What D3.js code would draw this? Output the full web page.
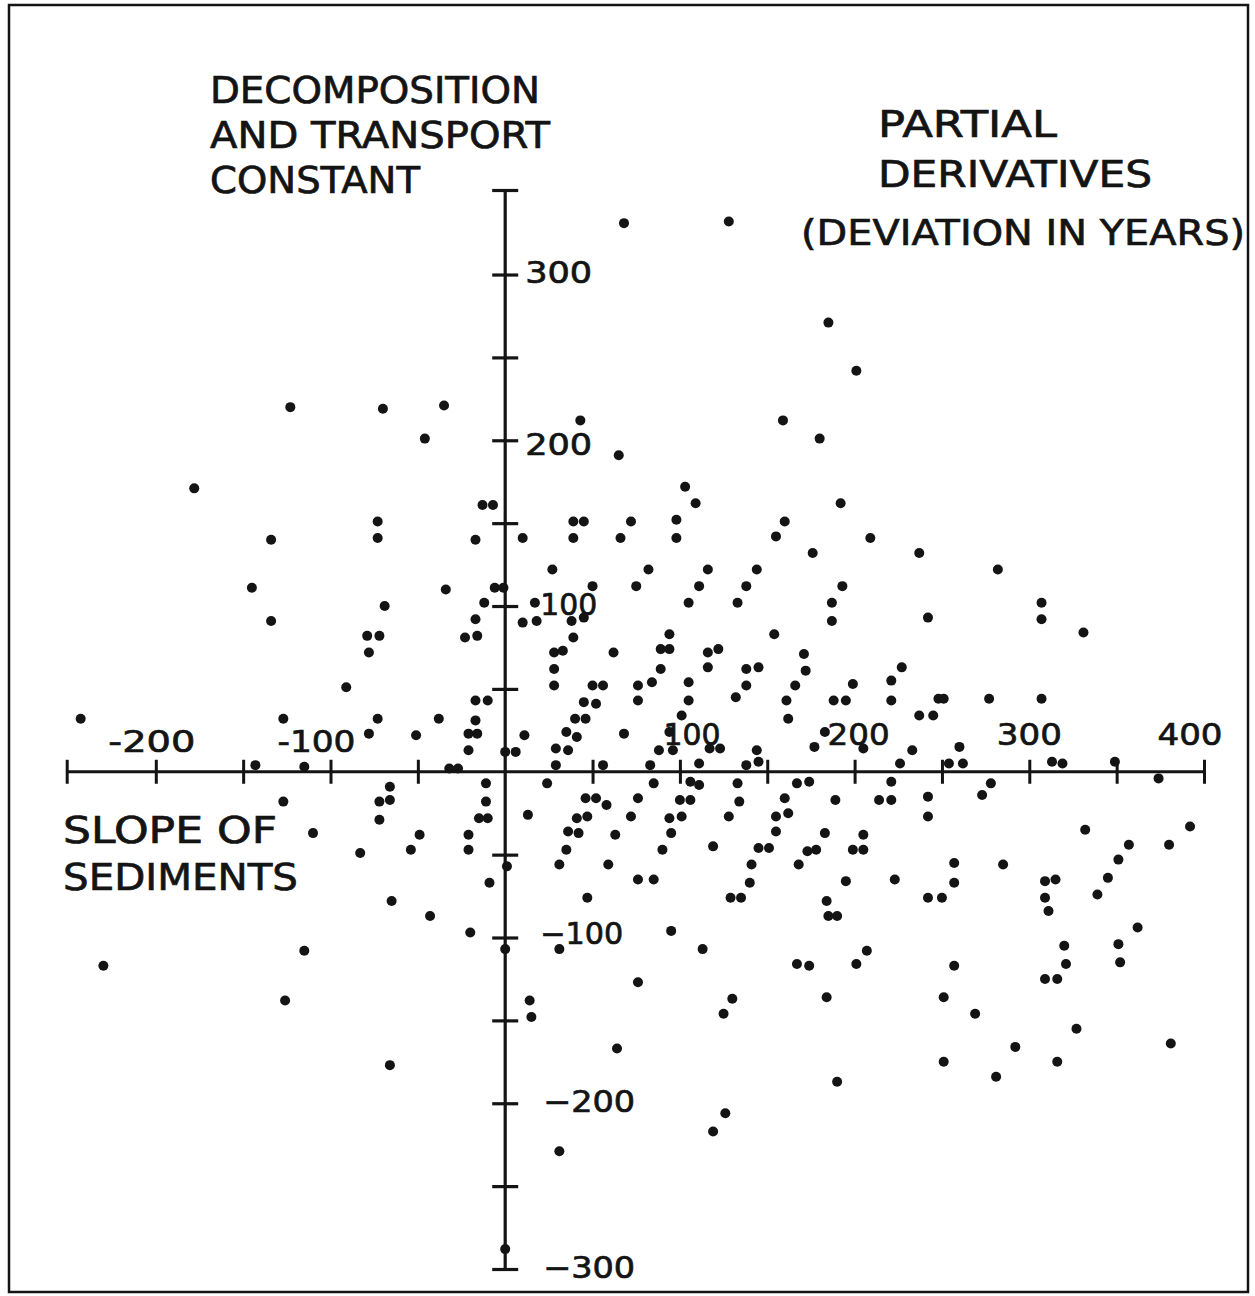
<!DOCTYPE html>
<html>
<head>
<meta charset="utf-8">
<script src="https://cdn.jsdelivr.net/npm/d3@7"></script>
<style>
  body { margin: 0; background: #fff; }
  text { font-family: "DejaVu Sans", "Liberation Sans", sans-serif; fill: #141414;
         stroke: #141414; stroke-width: 0.7px; }
</style>
</head>
<body>
<svg id="chart" width="1255" height="1296"></svg>
<script>
// Partial derivatives of the age estimate: deviation in years produced by
// the slope of sediments (x) and by the decomposition and transport constant (y).
const deviations = [
  [-123,220],[-178,171],[-134,140],
  [68,331],[-70,219],[-35,221],[-46,201],[43,212],[65,191],[-13,161],[-7,161],
  [-73,151],[-73,141],[-17,140],[10,141],[39,151],[45,151],[39,141],[72,151],[66,141],
  [128,332],[185,271],[201,242],[159,212],[180,201],[103,172],[109,162],[98,152],[98,141],
  [160,151],[155,142],[192,162],[209,141],[176,132],[237,132],
  [-145,111],[-134,91],[-91,51],[-243,32],[-127,32],[-143,4],[-115,3],[-127,-18],[-110,-37],
  [27,122],[-34,110],[-6,111],[-1,111],[-69,100],[-12,102],[17,102],[50,112],[75,112],
  [-17,92],[10,90],[18,91],[38,91],[45,93],[-79,82],[-72,82],[-78,72],[-23,81],[-16,82],
  [39,81],[28,72],[33,73],[62,72],[28,62],[28,52],[50,52],[56,52],[76,52],
  [-17,43],[-10,43],[45,42],[52,41],[76,43],[-73,32],[-38,32],[-17,31],[40,32],[46,32],
  [-78,23],[-51,22],[-21,23],[-16,23],[11,22],[35,24],[41,21],[68,23],
  [-21,13],[0,12],[6,12],[29,14],[36,13],[29,4],[-32,2],[-27,2],[56,4],
  [-66,-9],[-11,-7],[24,-7],[-72,-18],[-66,-17],[-11,-18],[46,-16],[52,-16],[58,-20],[76,-16],
  [-72,-29],[-15,-28],[-10,-28],[13,-26],[41,-28],[47,-27],[72,-27],
  [-49,-38],[-21,-38],[36,-36],[42,-37],[63,-38],[-83,-49],[-54,-47],[-21,-47],[35,-47],
  [1,-57],[31,-56],[59,-56],[-9,-67],[-65,-78],[47,-76],[76,-65],[-43,-87],
  [82,122],[116,122],[144,122],[111,112],[138,112],[193,112],[105,102],[133,102],[187,102],
  [187,91],[242,93],[94,83],[154,83],[89,74],[94,74],[116,72],[122,74],[171,71],
  [89,62],[116,63],[138,62],[145,63],[172,61],[227,63],
  [84,54],[105,54],[138,52],[166,52],[199,53],[221,55],
  [105,43],[132,45],[161,43],[188,43],[195,43],[221,43],[237,34],[101,34],[162,32],
  [94,24],[183,24],[88,13],[96,13],[117,14],[123,14],[177,15],[205,14],[233,13],[144,13],
  [83,4],[111,5],[138,4],[145,6],[226,5],
  [85,-7],[106,-6],[111,-8],[133,-7],[167,-7],[174,-6],[221,-6],
  [100,-17],[106,-17],[134,-18],[160,-16],[189,-17],[214,-17],[221,-17],[242,-15],
  [94,-28],[101,-27],[128,-27],[155,-27],[162,-25],[242,-27],
  [95,-37],[155,-36],[183,-37],[205,-38],
  [90,-47],[119,-45],[145,-46],[151,-46],[173,-48],[178,-47],[199,-47],[205,-47],
  [141,-56],[168,-56],[242,-76],[85,-65],[140,-67],[195,-66],[223,-65],
  [129,-76],[135,-76],[184,-78],[185,-87],[190,-87],
  [282,122],[307,102],[307,92],[331,84],[248,44],[251,44],[277,44],[307,44],[245,34],
  [260,15],[254,5],[262,5],[313,6],[319,5],[349,6],[374,-4],[278,-7],[273,-14],
  [332,-35],[392,-33],[357,-44],[380,-44],[351,-53],[257,-55],[285,-56],
  [257,-67],[309,-66],[315,-65],[345,-64],[250,-76],[309,-76],[311,-84],[339,-74],
  [-230,-117],[-115,-108],[-126,-138],
  [-20,-97],[0,-107],[31,-107],[76,-127],[14,-138],[15,-148],[-66,-177],[64,-167],
  [31,-229],[0,-288],
  [95,-96],[113,-107],[167,-116],[174,-117],[207,-108],[201,-116],[184,-136],[130,-137],
  [125,-146],[190,-187],[126,-206],[119,-217],
  [362,-94],[320,-105],[351,-104],[257,-117],[321,-116],[352,-115],[309,-125],[316,-125],
  [251,-136],[269,-146],[327,-155],[381,-164],[292,-166],[251,-175],[316,-175],[281,-184]
];

// Axis tick marks (every 50 years) and labelled values
const xTickValues = [-200,-150,-100,-50,50,100,150,200,250,300,350,400];
const yTickValues = [-300,-250,-200,-150,-100,-50,50,100,150,200,250,300];
const xLabelValues = [-200,-100,100,200,300,400];
const yLabelValues = [300,200,100,-100,-200,-300];

// Text blocks
const yAxisTitle = ["DECOMPOSITION", "AND TRANSPORT", "CONSTANT"];
const chartTitle = ["PARTIAL", "DERIVATIVES", "(DEVIATION IN YEARS)"];
const xAxisTitle = ["SLOPE OF", "SEDIMENTS"];

// ---- layout ----
const ink = "#141414";
const svg = d3.select("#chart");

const x = d3.scaleLinear().domain([-251, 400]).range([66.7, 1204]);
const y = d3.scaleLinear().domain([-300, 351]).range([1269, 190]);

// frame
svg.append("rect")
  .attr("x", 9).attr("y", 5).attr("width", 1239).attr("height", 1287)
  .attr("fill", "none").attr("stroke", ink).attr("stroke-width", 2.5);

// horizontal axis with crossing ticks
const xAxisG = svg.append("g")
  .attr("transform", `translate(0,${y(0)})`)
  .call(d3.axisBottom(x).tickValues(xTickValues.concat([-251])).tickSize(24).tickFormat(""));
xAxisG.select(".domain").attr("d", `M${x(-251)},0H${x(400)}`);
xAxisG.selectAll(".tick line").attr("y1", -12).attr("y2", 12);
xAxisG.selectAll("path, line").attr("stroke", ink).attr("stroke-width", 3);

// vertical axis with crossing ticks and end caps
const yAxisG = svg.append("g")
  .attr("transform", `translate(${x(0)},0)`)
  .call(d3.axisLeft(y).tickValues(yTickValues.concat([351])).tickSize(26).tickFormat(""));
yAxisG.select(".domain").attr("d", `M0,${y(-300)}V${y(351)}`);
yAxisG.selectAll(".tick line").attr("x1", -13).attr("x2", 13);
yAxisG.selectAll("path, line").attr("stroke", ink).attr("stroke-width", 3.2);

// tick labels: [dx from tick, baseline offset, rendered width]
const xLabelLayout = {
  "-200": [-4, -20, 87], "-100": [-14, -20, 78], "100": [12, -27, 57],
  "200": [4, -27, 62], "300": [0, -27, 65], "400": [-14, -27, 65]
};
svg.append("g").selectAll("text").data(xLabelValues).join("text")
  .attr("x", d => x(d) + xLabelLayout[d][0])
  .attr("y", d => y(0) + xLabelLayout[d][1])
  .attr("text-anchor", "middle")
  .attr("font-size", 30)
  .attr("textLength", d => xLabelLayout[d][2])
  .attr("lengthAdjust", "spacingAndGlyphs")
  .text(d => String(d));

const yLabelLayout = {
  "300": [20, 8, 67], "200": [20, 15, 67], "100": [35, 9, 57],
  "-100": [35, 6, 83], "-200": [38, 9, 92], "-300": [38, 9, 92]
};
svg.append("g").selectAll("text").data(yLabelValues).join("text")
  .attr("x", d => x(0) + yLabelLayout[d][0])
  .attr("y", d => y(d) + yLabelLayout[d][1])
  .attr("font-size", 30)
  .attr("textLength", d => yLabelLayout[d][2])
  .attr("lengthAdjust", "spacingAndGlyphs")
  .text(d => d < 0 ? "\u2212" + Math.abs(d) : String(d));

// title blocks: left edge, first baseline, line step, line widths, font size
function block(lines, left, top, step, widths, size) {
  svg.append("g").selectAll("text").data(lines).join("text")
    .attr("x", left)
    .attr("y", (d, i) => top + i * step)
    .attr("font-size", size)
    .attr("textLength", (d, i) => widths[i])
    .attr("lengthAdjust", "spacingAndGlyphs")
    .text(d => d);
}
block(yAxisTitle, 210, 103, 45, [330, 340, 210], 37);
block(chartTitle.slice(0, 2), 878, 137, 50, [179, 274], 37);
block(chartTitle.slice(2), 801, 245, 0, [444], 36);
block(xAxisTitle, 63, 843, 47, [214, 235], 37);

// points
svg.append("g").selectAll("circle").data(deviations).join("circle")
  .attr("cx", d => x(d[0]))
  .attr("cy", d => y(d[1]))
  .attr("r", 5)
  .attr("fill", ink);
</script>
</body>
</html>
